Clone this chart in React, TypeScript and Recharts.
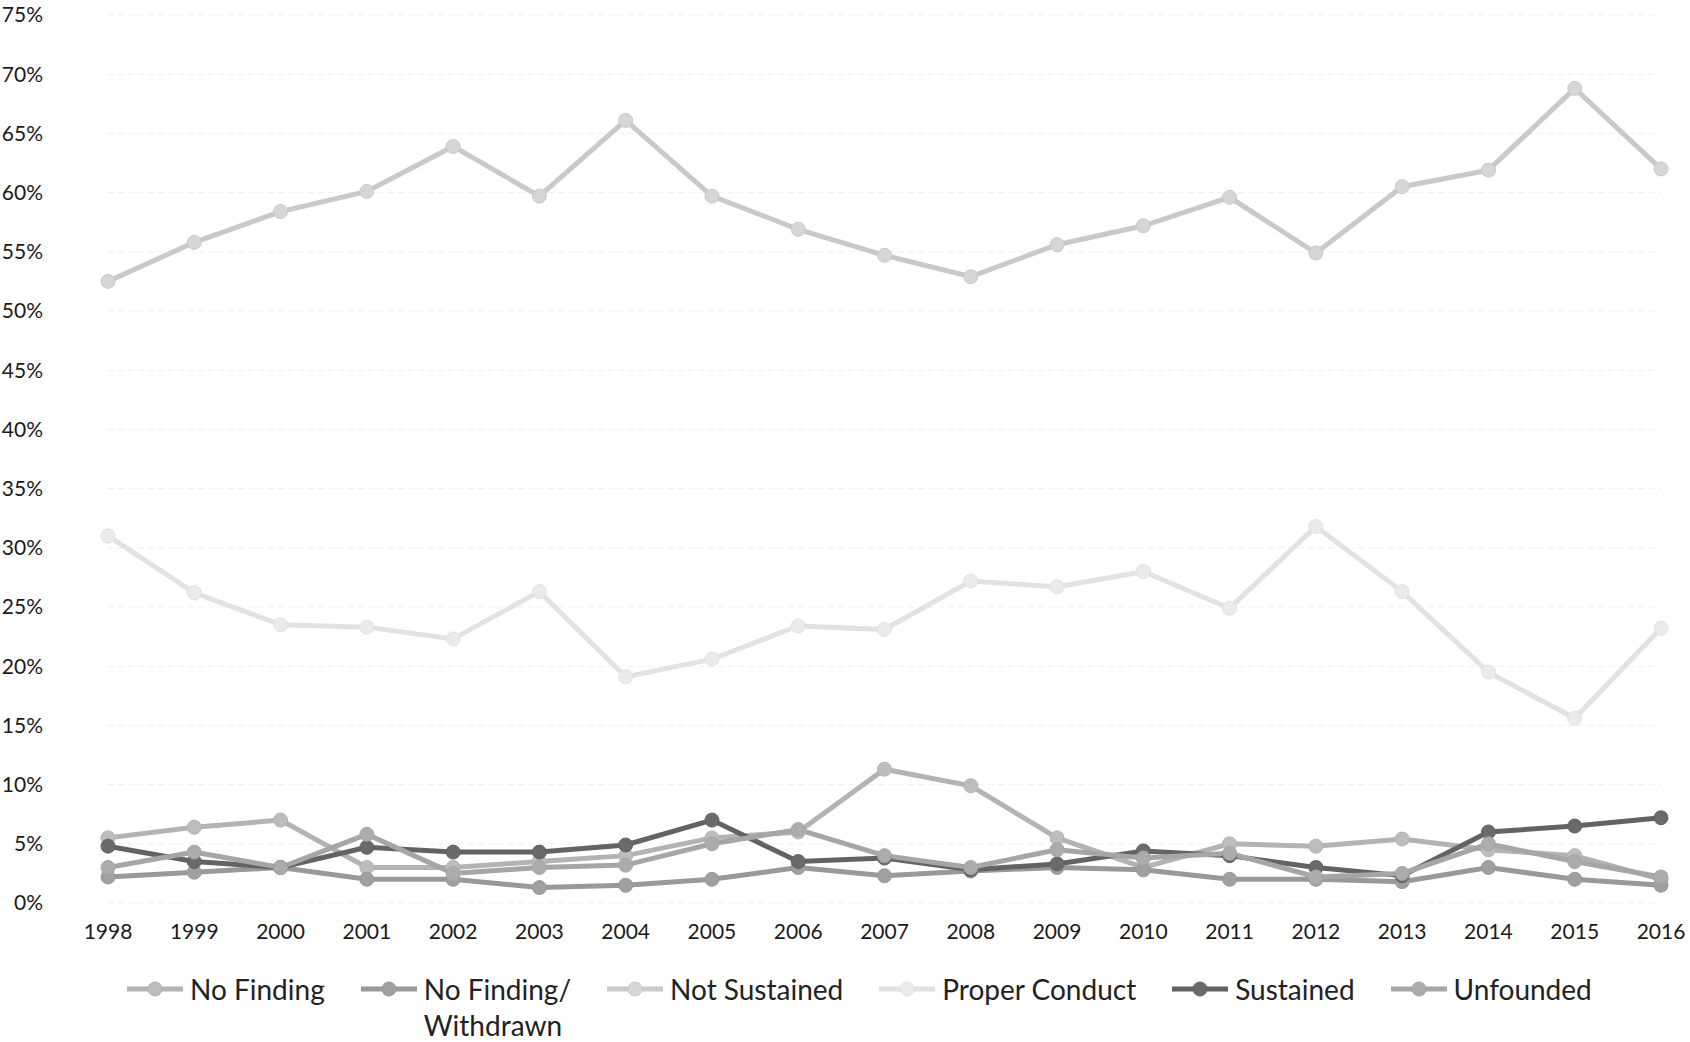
import React from "react";
import {
  LineChart,
  Line,
  XAxis,
  YAxis,
  CartesianGrid,
  Legend,
} from "recharts";

const years = [
  "1998", "1999", "2000", "2001", "2002", "2003", "2004", "2005", "2006", "2007",
  "2008", "2009", "2010", "2011", "2012", "2013", "2014", "2015", "2016",
];

const noFinding = [5.5, 6.4, 7.0, 3.0, 3.0, 3.5, 4.0, 5.5, 6.0, 11.3, 9.9, 5.5, 3.0, 5.0, 4.8, 5.4, 4.5, 4.0, 2.0];
const noFindingWithdrawn = [2.2, 2.6, 3.0, 2.0, 2.0, 1.3, 1.5, 2.0, 3.0, 2.3, 2.7, 3.0, 2.8, 2.0, 2.0, 1.8, 3.0, 2.0, 1.5];
const notSustained = [52.5, 55.8, 58.4, 60.1, 63.9, 59.7, 66.1, 59.7, 56.9, 54.7, 52.9, 55.6, 57.2, 59.6, 54.9, 60.5, 61.9, 68.8, 62.0];
const properConduct = [31.0, 26.2, 23.5, 23.3, 22.3, 26.3, 19.1, 20.6, 23.4, 23.1, 27.2, 26.7, 28.0, 24.9, 31.8, 26.3, 19.5, 15.6, 23.2];
const sustained = [4.8, 3.5, 3.0, 4.7, 4.3, 4.3, 4.9, 7.0, 3.5, 3.8, 2.8, 3.3, 4.4, 4.0, 3.0, 2.3, 6.0, 6.5, 7.2];
const unfounded = [3.0, 4.3, 3.0, 5.8, 2.5, 3.0, 3.2, 5.0, 6.2, 4.0, 3.0, 4.5, 3.8, 4.2, 2.2, 2.5, 5.0, 3.5, 2.2];

const yTicks = [0, 5, 10, 15, 20, 25, 30, 35, 40, 45, 50, 55, 60, 65, 70, 75];

const data = years.map((year, i) => ({
  year,
  noFinding: noFinding[i],
  noFindingWithdrawn: noFindingWithdrawn[i],
  notSustained: notSustained[i],
  properConduct: properConduct[i],
  sustained: sustained[i],
  unfounded: unfounded[i],
}));

const series = [
  { key: "noFinding", name: "No Finding", color: "#b3b3b3", dot: "#bdbdbd" },
  { key: "noFindingWithdrawn", name: "No Finding/ Withdrawn", color: "#999999", dot: "#a0a0a0" },
  { key: "notSustained", name: "Not Sustained", color: "#c9c9c9", dot: "#d6d6d6" },
  { key: "properConduct", name: "Proper Conduct", color: "#e2e2e2", dot: "#ebebeb" },
  { key: "sustained", name: "Sustained", color: "#636363", dot: "#6a6a6a" },
  { key: "unfounded", name: "Unfounded", color: "#a6a6a6", dot: "#acacac" },
];

const font = "Lato, 'Open Sans', sans-serif";

function LegendContent() {
  return (
    <div
      style={{
        display: "flex",
        justifyContent: "flex-start",
        alignItems: "flex-start",
        paddingLeft: 125,
        paddingTop: 10,
        boxSizing: "border-box",
        gap: 34,
        fontFamily: font,
        fontSize: 28,
        color: "#222",
        height: 79,
      }}
    >
      {series.map((s) => {
        const parts = s.name.split("/ ");
        return (
          <div key={s.key} style={{ display: "flex", alignItems: "flex-start" }}>
            <svg width={60} height={32} style={{ marginRight: 5 }}>
              <line x1={2} y1={16} x2={58} y2={16} stroke={s.color} strokeWidth={5} />
              <circle cx={30} cy={16} r={7} fill={s.dot} stroke={s.color} strokeWidth={1} />
            </svg>
            <div style={{ lineHeight: "36px", marginTop: -2 }}>
              {parts.length > 1 ? (
                <>
                  {parts[0]}/
                  <br />
                  {parts[1]}
                </>
              ) : (
                s.name
              )}
            </div>
          </div>
        );
      })}
    </div>
  );
}

export default function App() {
  return (
    <div style={{ position: "absolute", left: 0, top: 0, background: "#fff" }}>
      <LineChart
        width={1690}
        height={1042}
        data={data}
        margin={{ top: 15, right: 29, left: 0, bottom: 0 }}
      >
        <CartesianGrid vertical={false} stroke="#f1f1f1" strokeDasharray="6 4" />
        <XAxis
          dataKey="year"
          axisLine={false}
          tickLine={false}
          height={60}
          tickMargin={15}
          interval={0}
          tick={{ fill: "#1a1a1a", fontSize: 21, fontFamily: font }}
        />
        <YAxis
          domain={[0, 75]}
          ticks={yTicks}
          width={108}
          axisLine={false}
          tickLine={false}
          tickMargin={59}
          tickFormatter={(v) => `${v}%`}
          tick={{ fill: "#1a1a1a", fontSize: 21, fontFamily: font }}
        />
        <Legend verticalAlign="bottom" content={() => <LegendContent />} wrapperStyle={{ height: 79 }} />
        {series.map((s) => (
          <Line
            key={s.key}
            type="linear"
            dataKey={s.key}
            name={s.name}
            stroke={s.color}
            strokeWidth={5}
            dot={{ r: 7, fill: s.dot, stroke: s.color, strokeWidth: 1 }}
            isAnimationActive={false}
          />
        ))}
      </LineChart>
    </div>
  );
}
